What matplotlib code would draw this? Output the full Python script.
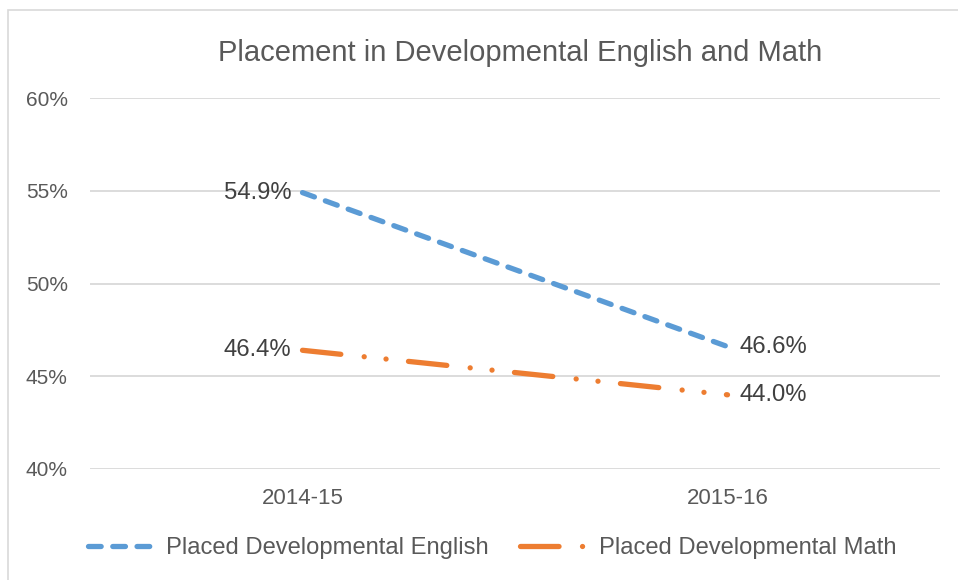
import matplotlib
matplotlib.use("Agg")
from matplotlib import pyplot as plt
from matplotlib.patches import Rectangle
from matplotlib.ticker import PercentFormatter

# data
years = ["2014-15", "2015-16"]
english = [54.9, 46.6]
math_vals = [46.4, 44.0]
series_names = ["Placed Developmental English", "Placed Developmental Math"]
y_ticks = [40, 45, 50, 55, 60]

blue = "#5B9BD5"
orange = "#ED7D31"
text_col = "#595959"
grid_col = "#D9D9D9"

plt.rcParams["font.family"] = ["Liberation Sans", "DejaVu Sans"]

fig = plt.figure(figsize=(9.58, 5.80), dpi=100)
ax = fig.add_axes([90 / 958, 1 - 469 / 580, 850 / 958, 371 / 580])

lw = 3.8
x = list(range(len(years)))
l1, = ax.plot(x, english, color=blue, lw=lw, dash_capstyle="round",
              dashes=(2.4, 2.2), zorder=3)
l2, = ax.plot(x, math_vals, color=orange, lw=lw, dash_capstyle="round",
              dashes=(7.3, 4.45, 0.01, 4.15, 0.01, 4.27), zorder=3)

# data labels: left of first point, right of second
for vals in (english, math_vals):
    ax.annotate(f"{vals[0]:.1f}%", (x[0], vals[0]), xytext=(-8, 0),
                textcoords="offset points", ha="right", va="center",
                fontsize=17.2, color="#404040")
    ax.annotate(f"{vals[1]:.1f}%", (x[1], vals[1]), xytext=(9, 0),
                textcoords="offset points", ha="left", va="center",
                fontsize=17.2, color="#404040")

ax.set_xlim(-0.5, 1.5)
ax.set_ylim(40, 60)
ax.set_yticks(y_ticks)
ax.yaxis.set_major_formatter(PercentFormatter(100, decimals=0))
ax.set_xticks(x)
ax.set_xticklabels(years)
ax.tick_params(axis="x", length=0, pad=14, labelsize=16, labelcolor=text_col)
ax.tick_params(axis="y", length=0, pad=16, labelsize=15, labelcolor=text_col)
ax.grid(axis="y", color=grid_col, lw=1.3)
for s in ax.spines.values():
    s.set_visible(False)
ax.set_axisbelow(True)

fig.text(520 / 958, 1 - 53 / 580, "Placement in Developmental English and Math",
         ha="center", va="center", fontsize=21, color=text_col)

fig.legend([l1, l2], series_names, loc="center", bbox_to_anchor=(492 / 958, 1 - 548 / 580),
           ncol=2, frameon=False, fontsize=17.1, labelcolor=text_col,
           handlelength=2.9, handletextpad=0.42, columnspacing=1.3)

# chart border
fig.patches.append(Rectangle((8 / 958, -0.1), 1.1, 1.1 - 10 / 580,
                             transform=fig.transFigure, fill=False,
                             edgecolor=grid_col, lw=1.2))

fig.savefig("out.png", dpi=100)
